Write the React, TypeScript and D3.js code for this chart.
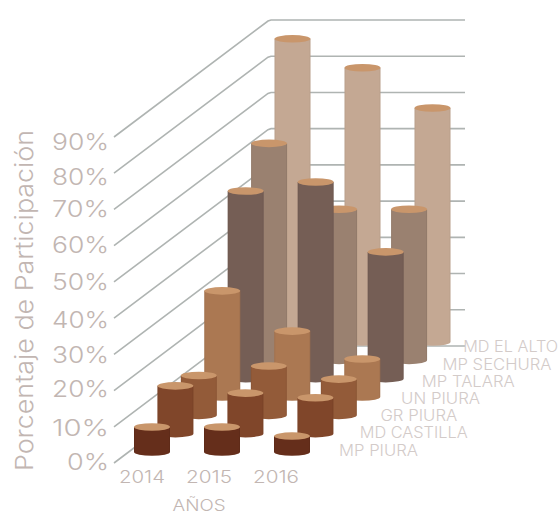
import React from "react";
import * as d3 from "d3";

const years = ["2014", "2015", "2016"];
const seriesNames = ["MP PIURA", "MD CASTILLA", "GR PIURA", "UN PIURA", "MP TALARA", "MP SECHURA", "MD EL ALTO"];
const piura = [6.9, 6.9, 4.4];
const castilla = [13.2, 11.2, 9.9];
const grPiura = [11, 13.6, 10];
const unPiura = [29.3, 18.2, 10.5];
const talara = [51.8, 54.3, 35];
const sechura = [59.9, 41.7, 41.7];
const elAlto = [83.7, 75.7, 64.6];
const seriesValues = [piura, castilla, grPiura, unPiura, talara, sechura, elAlto];
const bodyColors = ["#652e1b", "#80462a", "#935b39", "#ab7852", "#755e55", "#9a8170", "#c4a893"];
const tickValues = [0, 10, 20, 30, 40, 50, 60, 70, 80, 90];
const tickNudge = [-1, 1, -2, 0, 1, 0, -1, -1, 3, 5];
const seriesLabelWidths = [79, 108, 77, 79, 93, 109, 95];

const font = "Inter, 'Open Sans', sans-serif";
const W = 558, H = 514;
const RX = 18, RY = 3.8;

export default function App() {
  // back-wall value scale
  const y = d3.scaleLinear().domain([0, 90]).range([0, 326]);
  const xYear = d3.scaleLinear().domain([0, 2]).range([0, 140]);
  const xDepth = d3.scaleLinear().domain([0, 6]).range([152, 292.5]);
  const yDepth = d3.scaleLinear().domain([0, 6]).range([452, 342]);
  const corner = d3.scaleLinear().domain([0, 90]).range([346, 20]);

  const grid = tickValues.map((t) => {
    const yc = corner(t);
    const p = d3.line()([[114, yc + 117], [268, yc + 1], [271, yc], [465, yc]]) as string;
    return <path key={t} d={p} fill="none" stroke="#afb4b2" strokeWidth={1.6} />;
  });

  const bars: React.ReactNode[] = [];
  for (let s = seriesNames.length - 1; s >= 0; s--) {
    years.forEach((yr, k) => {
      const cx = xDepth(s) + xYear(k);
      const base = yDepth(s);
      const top = base - y(seriesValues[s][k]);
      const l = cx - RX, r = cx + RX;
      bars.push(
        <g key={s + yr}>
          <path d={`M${l},${top}L${l},${base}A${RX},${RY} 0 0 0 ${r},${base}L${r},${top}Z`} fill={bodyColors[s]} />
          <path d={`M${l + 0.5},${top}L${l + 0.5},${base}M${r - 0.5},${top}L${r - 0.5},${base}`} stroke="#000" strokeOpacity={0.05} strokeWidth={1} />
          <ellipse cx={cx} cy={top} rx={RX} ry={RY} fill="#c9966b" />
        </g>
      );
    });
  }

  const axisColor = "#c2b6b2";
  const labelColor = "#d3cbc9";
  return (
    <svg width={W} height={H} style={{ position: "absolute", left: 0, top: 0 }} fontFamily={font}>
      {grid}
      {bars}
      {tickValues.map((t, i) => (
        <text key={t} x={109} y={corner(t) + 117 + 8.4 + tickNudge[i]} textAnchor="end" fontSize={23} fontWeight={300} fill={axisColor}
          textLength={t === 0 ? 42 : 57} lengthAdjust="spacingAndGlyphs">{t}%</text>
      ))}
      <text transform="translate(33,471) rotate(-90)" fontSize={24} fontWeight={300} fill={axisColor} textLength={341} lengthAdjust="spacingAndGlyphs">Porcentaje de Participación</text>
      {years.map((yr, k) => (
        <text key={yr} x={142 + k * 67} y={483} textAnchor="middle" fontSize={17} fontWeight={300} fill={axisColor} textLength={46} lengthAdjust="spacingAndGlyphs">{yr}</text>
      ))}
      <text x={199} y={511} textAnchor="middle" fontSize={16} fontWeight={300} fill={axisColor} textLength={53} lengthAdjust="spacingAndGlyphs">AÑOS</text>
      {seriesNames.map((n, s) => (
        <text key={n} x={339 + s * 20.7} y={455.5 - s * 17.2} fontSize={15.5} fontWeight={300} fill={labelColor}
          textLength={seriesLabelWidths[s]} lengthAdjust="spacingAndGlyphs">{n}</text>
      ))}
    </svg>
  );
}
